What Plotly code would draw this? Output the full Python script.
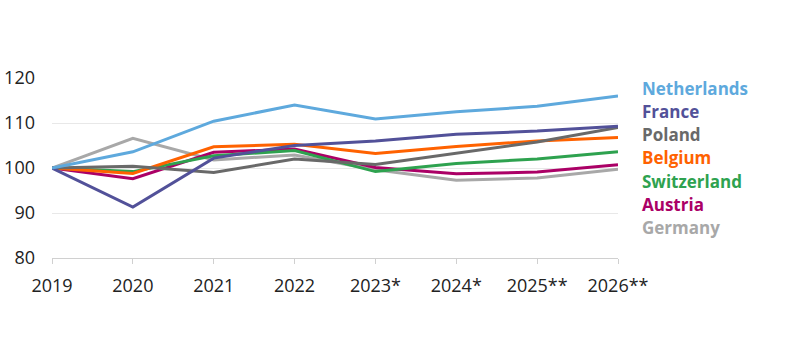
import plotly.graph_objects as go

years = ["2019", "2020", "2021", "2022", "2023*", "2024*", "2025**", "2026**"]
netherlands = [100, 103.6, 110.4, 114.0, 110.9, 112.5, 113.7, 116.0]
france = [100, 91.3, 102.2, 105.0, 106.0, 107.5, 108.2, 109.3]
poland = [100, 100.4, 99.0, 102.0, 100.8, 103.3, 105.8, 109.0]
belgium = [100, 98.8, 104.7, 105.3, 103.2, 104.8, 106.0, 106.8]
switzerland = [100, 99.2, 102.7, 103.9, 99.2, 101.0, 102.0, 103.6]
austria = [100, 97.6, 103.5, 104.2, 100.1, 98.7, 99.1, 100.7]
germany = [100, 106.6, 101.8, 102.9, 99.6, 97.3, 97.8, 99.7]

series = [
    ("Netherlands", netherlands, "#5ea9dd"),
    ("France", france, "#525199"),
    ("Poland", poland, "#696969"),
    ("Belgium", belgium, "#ff6200"),
    ("Switzerland", switzerland, "#2ea24f"),
    ("Austria", austria, "#ab0066"),
    ("Germany", germany, "#a8a8a8"),
]

fig = go.Figure()
for name, vals, col in reversed(series):
    fig.add_trace(go.Scatter(x=years, y=vals, mode="lines", name=name,
                             line=dict(color=col, width=3), showlegend=False))

top, bottom = 78, 258
for i, (name, vals, col) in enumerate(series):
    ypix = 88 + i * 23.3
    fig.add_annotation(x=1.039, xref="paper", xanchor="left",
                       y=(bottom - ypix) / (bottom - top), yref="paper", yanchor="middle",
                       text="<b>%s</b>" % name, showarrow=False,
                       font=dict(color=col, size=17, family="Open Sans"))

fig.update_layout(
    width=800, height=348,
    margin=dict(l=52, r=182, t=top, b=348 - bottom),
    plot_bgcolor="white", paper_bgcolor="white",
    font=dict(family="Open Sans", size=18, color="#222222"),
    xaxis=dict(type="category", range=[0, 7], showgrid=False, automargin=False,
               showline=True, linecolor="#d0d0d0", linewidth=1,
               ticks="outside", tickcolor="#d0d0d0", ticklen=5,
               ticklabelstandoff=6,
               tickfont=dict(size=18, color="#222222")),
    yaxis=dict(range=[80, 120], dtick=10, showgrid=True, gridcolor="#e8e8e8",
               automargin=False,
               zeroline=False, showline=False, ticks="",
               ticklabelstandoff=16,
               tickfont=dict(size=18, color="#222222")),
)

fig.write_html("out.html")
